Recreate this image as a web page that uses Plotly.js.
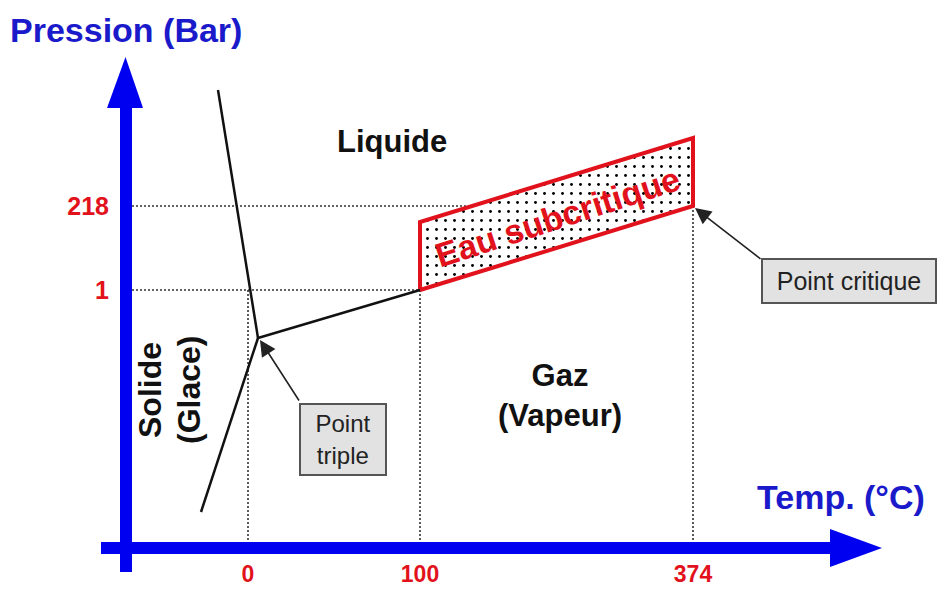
<!DOCTYPE html>
<html>
<head>
<meta charset="utf-8">
<script src="https://cdn.plot.ly/plotly-3.0.1.min.js"></script>
<style>
  html, body { margin: 0; padding: 0; background: #ffffff; }
  #chart { width: 939px; height: 591px; }
</style>
</head>
<body>
<div id="chart"></div>
<script>
// ---- Schematic data (diagram units: x grows right, y grows downward) ----
const tempTickPos   = [248, 420, 693];
const tempTickText  = ['0', '100', '374'];
const pressTickPos  = [206, 290];
const pressTickText = ['218', '1'];

// Phase boundary curves
const fusionX  = [218, 258];
const fusionY  = [90, 338];
const sublimX  = [258, 201];
const sublimY  = [338, 512];
const vaporX   = [258, 420];
const vaporY   = [338, 290];

// Subcritical water band
const subcritX = [420, 420, 693, 693, 420];
const subcritY = [290, 222, 138, 206, 290];

// Guide (dotted) lines
const guide218X = [132, 693];
const guide218Y = [206, 206];
const guide1X   = [132, 420];
const guide1Y   = [290, 290];
const guide0X   = [248, 248];
const guide0Y   = [290, 549];
const guide100X = [420, 420];
const guide100Y = [290, 549];
const guide374X = [693, 693];
const guide374Y = [206, 549];

// Special points
const tripleX   = [258];
const tripleY   = [338];
const criticalX = [693];
const criticalY = [206];

// ---- Layout frame ----
const W = 939, H = 591;
const ML = 126, MB = 42;
const PW = W - ML, PH = H - MB;
const px = v => (v - ML) / PW;      // page px -> paper x
const py = v => (PH - v) / PH;      // page px -> paper y

const BLUE = '#0000f0';
const BLUE_TXT = '#1a1acb';
const RED = '#e2121c';
const FONT = 'Liberation Sans, Arial, sans-serif';

const dotted = { color: '#333333', width: 1.6, dash: '2px,2px' };
const black = { color: '#111111', width: 2.5 };

const traces = [
  { x: guide218X, y: guide218Y, mode: 'lines', line: dotted, hoverinfo: 'skip', showlegend: false },
  { x: guide1X,   y: guide1Y,   mode: 'lines', line: dotted, hoverinfo: 'skip', showlegend: false },
  { x: guide0X,   y: guide0Y,   mode: 'lines', line: dotted, hoverinfo: 'skip', showlegend: false },
  { x: guide100X, y: guide100Y, mode: 'lines', line: dotted, hoverinfo: 'skip', showlegend: false },
  { x: guide374X, y: guide374Y, mode: 'lines', line: dotted, hoverinfo: 'skip', showlegend: false },
  { x: subcritX, y: subcritY, mode: 'lines', fill: 'toself', fillcolor: 'white',
    fillpattern: { shape: '.', fgcolor: '#000000', bgcolor: '#ffffff', size: 9, solidity: 0.08 },
    line: { color: RED, width: 4 }, hoverinfo: 'skip', showlegend: false },
  { x: fusionX, y: fusionY, mode: 'lines', line: black, hoverinfo: 'skip', showlegend: false },
  { x: sublimX, y: sublimY, mode: 'lines', line: black, hoverinfo: 'skip', showlegend: false },
  { x: vaporX,  y: vaporY,  mode: 'lines', line: black, hoverinfo: 'skip', showlegend: false }
];

const shapes = [
  // vertical (pressure) arrow
  { type: 'rect', xref: 'paper', yref: 'paper', x0: px(120), x1: px(132), y0: py(572), y1: py(106),
    fillcolor: BLUE, line: { width: 0 }, layer: 'above' },
  { type: 'path', xref: 'paper', yref: 'paper',
    path: `M ${px(107)},${py(108)} L ${px(143)},${py(108)} L ${px(125.5)},${py(57)} Z`,
    fillcolor: BLUE, line: { width: 0 }, layer: 'above' },
  // horizontal (temperature) arrow
  { type: 'rect', xref: 'paper', yref: 'paper', x0: px(101), x1: px(832), y0: py(554), y1: py(542),
    fillcolor: BLUE, line: { width: 0 }, layer: 'above' },
  { type: 'path', xref: 'paper', yref: 'paper',
    path: `M ${px(830)},${py(529)} L ${px(830)},${py(567)} L ${px(882)},${py(548)} Z`,
    fillcolor: BLUE, line: { width: 0 }, layer: 'above' }
];

const annotations = [
  { xref: 'paper', yref: 'paper', x: px(841), y: py(497), text: 'Temp. (°C)', showarrow: false,
    xanchor: 'center', yanchor: 'middle',
    font: { family: FONT, size: 34, color: BLUE_TXT, weight: 'bold' } },
  { x: 392, y: 141, text: 'Liquide', showarrow: false, xanchor: 'center', yanchor: 'middle',
    font: { family: FONT, size: 31, color: '#111111', weight: 'bold' } },
  { x: 560, y: 395, text: 'Gaz<br>(Vapeur)', showarrow: false, xanchor: 'center', yanchor: 'middle',
    font: { family: FONT, size: 31, color: '#111111', weight: 'bold' } },
  { x: 150, y: 390, text: 'Solide', showarrow: false, textangle: -90, xanchor: 'center', yanchor: 'middle',
    font: { family: FONT, size: 32, color: '#111111', weight: 'bold' } },
  { x: 189, y: 390, text: '(Glace)', showarrow: false, textangle: -90, xanchor: 'center', yanchor: 'middle',
    font: { family: FONT, size: 32, color: '#111111', weight: 'bold' } },
  { x: 557, y: 217, text: 'Eau subcritique', showarrow: false, textangle: -18, xanchor: 'center', yanchor: 'middle',
    font: { family: FONT, size: 34, color: RED, weight: 'bold' } },
  // arrows to special points
  { x: tripleX[0] + 2, y: tripleY[0] + 2, ax: 300, ay: 402, axref: 'x', ayref: 'y', text: '',
    showarrow: true, arrowhead: 2, arrowsize: 2, arrowwidth: 1.6, arrowcolor: '#222222' },
  { x: criticalX[0] + 2, y: criticalY[0] + 2, ax: 762, ay: 260, axref: 'x', ayref: 'y', text: '',
    showarrow: true, arrowhead: 2, arrowsize: 2, arrowwidth: 1.6, arrowcolor: '#222222' },
  // callout boxes
  { x: 343, y: 439, text: 'Point<br>triple', showarrow: false, xanchor: 'center', yanchor: 'middle',
    width: 84, height: 69, borderpad: 0, borderwidth: 2, bordercolor: '#555555', bgcolor: '#e2e2e2',
    font: { family: FONT, size: 24, color: '#222222' } },
  { x: 849, y: 281, text: 'Point critique', showarrow: false, xanchor: 'center', yanchor: 'middle',
    width: 172, height: 42, borderpad: 0, borderwidth: 2, bordercolor: '#555555', bgcolor: '#e2e2e2',
    font: { family: FONT, size: 25, color: '#222222' } }
];

const layout = {
  width: W, height: H,
  margin: { l: ML, r: 0, t: 0, b: MB, pad: 0 },
  paper_bgcolor: '#ffffff', plot_bgcolor: '#ffffff',
  showlegend: false,
  title: { text: 'Pression (Bar)', xref: 'container', yref: 'container',
    x: 10 / W, xanchor: 'left', y: 1 - 30 / H, yanchor: 'middle',
    font: { family: FONT, size: 34, color: BLUE_TXT, weight: 'bold' } },
  xaxis: { range: [ML, W], showgrid: false, zeroline: false, showline: false,
    tickmode: 'array', tickvals: tempTickPos, ticktext: tempTickText, ticks: '',
    ticklabelstandoff: 9,
    tickfont: { family: FONT, size: 23, color: RED, weight: 'bold' }, fixedrange: true },
  yaxis: { range: [PH, 0], showgrid: false, zeroline: false, showline: false,
    tickmode: 'array', tickvals: pressTickPos, ticktext: pressTickText, ticks: '',
    ticklabelstandoff: 16,
    tickfont: { family: FONT, size: 25, color: RED, weight: 'bold' }, fixedrange: true },
  shapes: shapes,
  annotations: annotations
};

Plotly.newPlot('chart', traces, layout, { displayModeBar: false, staticPlot: true });
</script>
</body>
</html>
